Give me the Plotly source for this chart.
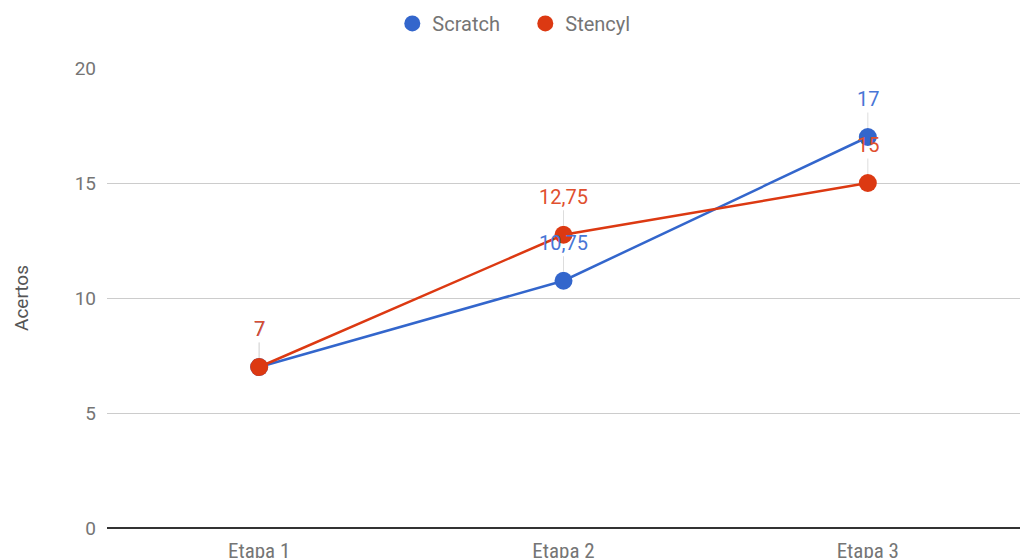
import plotly.graph_objects as go

categories = ["Etapa 1", "Etapa 2", "Etapa 3"]
scratch = [7, 10.75, 17]
stencyl = [7, 12.75, 15]
series = [("Scratch", scratch, "#3366cc", "#4876d6"),
          ("Stencyl", stencyl, "#dc3912", "#e0502e")]

def fmt(v):
    return f"{v:g}".replace(".", ",")

fig = go.Figure()
annotations = []
for name, vals, color, lblcolor in series:
    fig.add_trace(go.Scatter(
        x=categories, y=vals, name=name, mode="lines+markers",
        line=dict(color=color, width=2.5),
        marker=dict(color=color, size=18),
        showlegend=False,
    ))
    for c, v in zip(categories, vals):
        annotations.append(dict(
            x=c, y=v, xref="x", yref="y", text=fmt(v),
            showarrow=True, arrowhead=0, arrowwidth=1, arrowcolor="#dddddd",
            ax=0, ay=-38, standoff=9,
            font=dict(family="Roboto", size=20, color=lblcolor),
        ))

# legend-only entries (circles, no line)
for name, vals, color, lblcolor in series:
    fig.add_trace(go.Scatter(
        x=[None], y=[None], name=name, mode="markers",
        marker=dict(color=color, size=18), showlegend=True,
    ))

fig.update_layout(
    width=1020, height=558,
    margin=dict(l=107, r=0, t=68, b=30),
    paper_bgcolor="white", plot_bgcolor="white",
    font=dict(family="Roboto", size=19, color="#757575"),
    showlegend=True,
    legend=dict(orientation="h", xref="container", yref="container",
                x=0.515, xanchor="center", y=0.958, yanchor="middle",
                entrywidth=88,
                font=dict(family="Roboto", size=20, color="#757575"),
                itemsizing="trace"),
    annotations=annotations,
    xaxis=dict(range=[-0.5, 2.5], showgrid=False, showline=False,
               zeroline=False, ticks="", ticklabelstandoff=8, automargin=False,
               tickfont=dict(family="Roboto Condensed, DejaVu Sans Condensed, Liberation Sans Narrow, Roboto",
                             size=21, color="#757575")),
    yaxis=dict(range=[0, 20], tickvals=[0, 5, 10, 15, 20], showgrid=True,
               gridcolor="#cccccc", gridwidth=1, zeroline=True,
               zerolinecolor="#333333", zerolinewidth=1.5, ticks="",
               ticklabelstandoff=10,
               tickfont=dict(size=19, color="#757575"),
               title=dict(text="Acertos", standoff=40,
                          font=dict(size=19, color="#555555"))),
)

fig.write_html("out.html")
